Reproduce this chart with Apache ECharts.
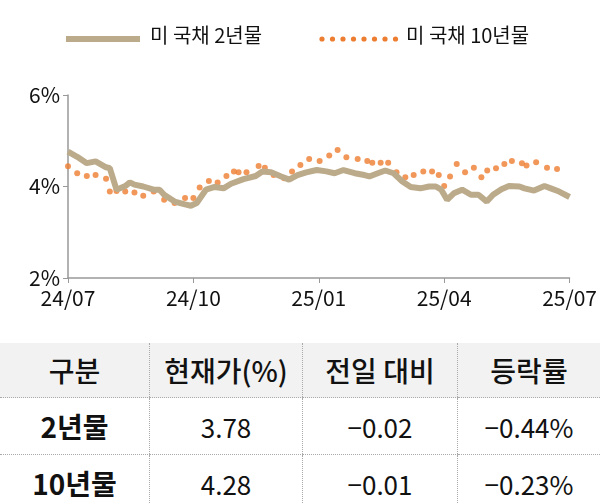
<!DOCTYPE html>
<html><head><meta charset="utf-8">
<script src="https://cdn.jsdelivr.net/npm/echarts@6/dist/echarts.min.js"></script>
<style>
body{margin:0;width:600px;height:504px;overflow:hidden;background:#fff;font-family:"Noto Sans CJK KR",sans-serif;}
#c{position:absolute;left:0;top:0;width:600px;height:330px;}
table{position:absolute;left:0;top:343px;width:600px;border-collapse:collapse;font-family:"Noto Sans CJK KR";table-layout:fixed;}
td{text-align:center;color:#111;border-bottom:1px dotted #aaa;border-left:1px dotted #aaa;padding:0;}
td:first-child{border-left:none;}
tr.h td{background:#f2f2f2;height:54px;font-size:28px;font-weight:500;}
tr.r td{height:56px;font-size:26px;}
tr.r td:first-child{font-weight:bold;font-size:28px;}
</style></head><body>
<div id="c"></div>
<table>
<tr class="h"><td style="width:149px">구분</td><td style="width:152px">현재가(%)</td><td style="width:154px">전일 대비</td><td>등락률</td></tr>
<tr class="r"><td>2년물</td><td>3.78</td><td>−0.02</td><td>−0.44%</td></tr>
<tr class="r"><td>10년물</td><td>4.28</td><td>−0.01</td><td>−0.23%</td></tr>
</table>
<script>
const xTickLabels=['24/07','24/10','25/01','25/04','25/07'];
const seriesNames=['미 국채 2년물','미 국채 10년물'];
// x positions in months since 2024-07, values in %
const pos=[0,0.22,0.45,0.66,0.91,1.0,1.16,1.37,1.48,1.59,1.8,2.05,2.19,2.3,2.55,2.8,2.94,3.08,3.3,3.51,3.72,3.9,4.2,4.49,4.65,4.86,5.1,5.29,5.49,5.7,5.95,6.18,6.38,6.59,6.86,7.09,7.21,7.41,7.59,7.79,8.0,8.2,8.43,8.64,8.8,8.93,9.07,9.23,9.43,9.64,9.82,10.02,10.17,10.37,10.55,10.8,10.92,11.15,11.4,11.55,11.75,12.0];
const y2=[4.76,4.65,4.51,4.55,4.42,4.40,3.93,4.01,4.09,4.04,4.0,3.93,3.93,3.82,3.67,3.61,3.58,3.64,3.93,3.99,3.96,4.06,4.16,4.23,4.33,4.31,4.22,4.15,4.25,4.31,4.36,4.33,4.29,4.36,4.29,4.25,4.22,4.29,4.35,4.29,4.11,3.99,3.96,4.0,4.0,3.93,3.71,3.85,3.93,3.82,3.82,3.67,3.82,3.94,4.01,4.0,3.96,3.91,4.01,3.96,3.89,3.77];
const pos10=[0,0.22,0.45,0.66,0.91,1.0,1.16,1.37,1.59,1.8,2.05,2.3,2.55,2.8,3.0,3.15,3.37,3.58,3.79,3.97,4.08,4.27,4.56,4.71,4.92,5.17,5.36,5.56,5.77,6.02,6.25,6.45,6.66,6.93,7.16,7.28,7.48,7.66,7.86,8.07,8.27,8.5,8.71,8.87,9.0,9.14,9.3,9.5,9.71,9.89,10.03,10.24,10.44,10.62,10.86,10.97,11.2,11.46,11.7];
const y10=[4.44,4.29,4.23,4.25,4.17,3.89,3.90,3.89,3.87,3.80,3.89,3.71,3.64,3.75,3.75,3.98,4.12,4.09,4.23,4.33,4.31,4.31,4.45,4.41,4.25,4.18,4.33,4.47,4.60,4.56,4.68,4.80,4.64,4.60,4.56,4.52,4.52,4.52,4.31,4.20,4.25,4.33,4.33,4.25,4.01,4.22,4.49,4.31,4.41,4.20,4.35,4.40,4.49,4.56,4.51,4.46,4.53,4.41,4.38,4.29];
const chart=echarts.init(document.getElementById('c'));
const tan='#bcab8b',org='#ed7d31';
const dots=[];for(let i=0;i<8;i++)dots.push({type:'circle',shape:{cx:322+i*10.5,cy:39,r:2.6},style:{fill:org}});
chart.setOption({
 animation:false,
 textStyle:{fontFamily:'Noto Sans CJK KR'},
 grid:{left:68,right:26,top:95,bottom:52},
 graphic:[
  {type:'line',shape:{x1:66,y1:39,x2:140,y2:39},style:{stroke:tan,lineWidth:6}},
  {type:'text',left:150,top:25,style:{text:seriesNames[0],font:'20px "Noto Sans CJK KR"',fill:'#111'}},
  ...dots,
  {type:'text',left:406,top:25,style:{text:seriesNames[1],font:'20px "Noto Sans CJK KR"',fill:'#111'}}
 ],
 xAxis:{type:'value',min:0,max:12,interval:3,
  axisLine:{lineStyle:{color:'#999',width:1.5}},axisTick:{show:true,length:5,lineStyle:{color:'#999'}},
  splitLine:{show:false},
  axisLabel:{color:'#111',fontSize:21,margin:10,formatter:v=>xTickLabels[Math.round(v/3)]}},
 yAxis:{type:'value',min:2,max:6,interval:2,
  axisLine:{show:true,lineStyle:{color:'#999',width:1.5}},axisTick:{show:true,length:5,lineStyle:{color:'#999'}},
  splitLine:{show:false},
  axisLabel:{color:'#111',fontSize:21,margin:8,formatter:'{value}%'}},
 series:[
  {name:seriesNames[0],type:'line',data:pos.map((p,i)=>[p,y2[i]]),showSymbol:false,lineStyle:{color:tan,width:6}},
  {name:seriesNames[1],type:'scatter',data:pos10.map((p,i)=>[p,y10[i]]),symbolSize:6,itemStyle:{color:org}}
 ]
});
</script></body></html>
